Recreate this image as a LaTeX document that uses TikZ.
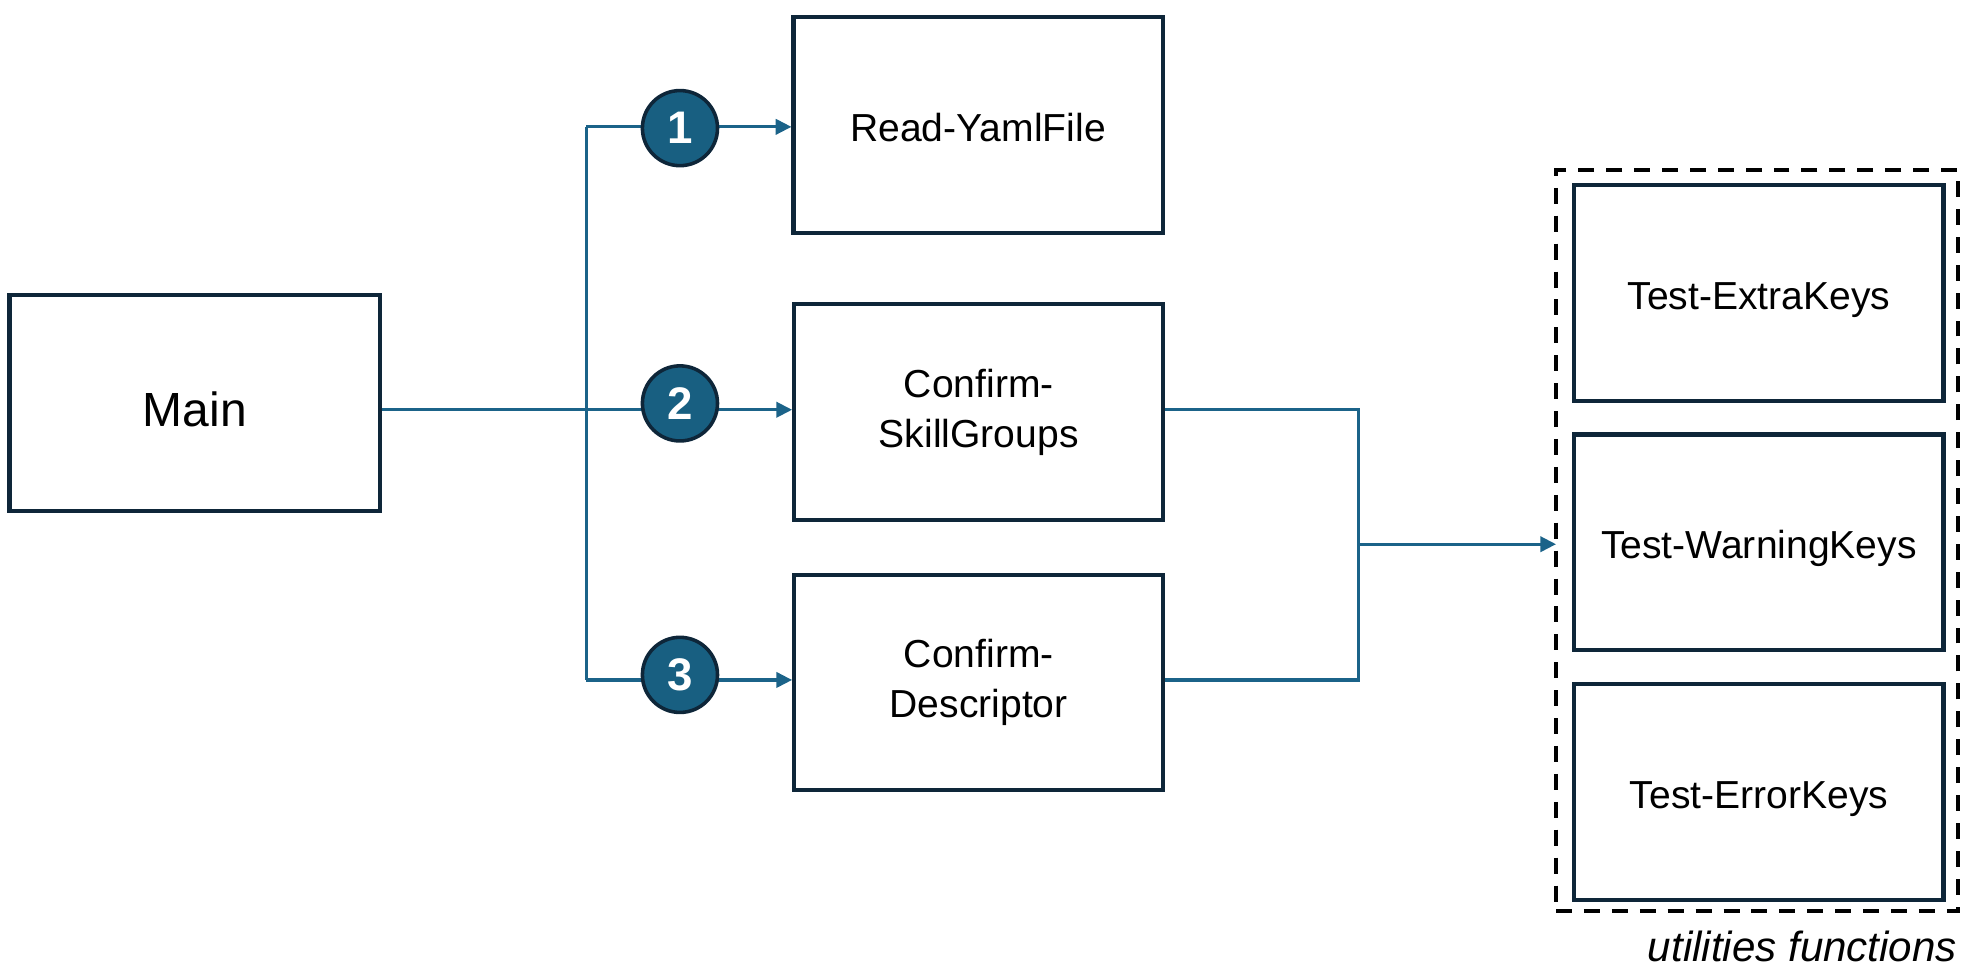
\documentclass[tikz,border=0pt]{standalone}
\usepackage{fontspec}
\setmainfont{Liberation Sans}
\usetikzlibrary{arrows.meta}
\definecolor{boxline}{HTML}{0E2639}
\definecolor{connblue}{HTML}{1B6389}
\definecolor{circfill}{HTML}{185F81}
\begin{document}
\begin{tikzpicture}[x=0.5pt,y=-0.5pt,
  fbox/.style={draw=boxline, line width=1.6pt, rectangle, minimum width=145.5pt, minimum height=85pt, inner sep=0pt, align=center, font=\fontsize{15.4}{19.5}\selectfont},
  onebox/.style={fbox, text height=13pt, text depth=0pt},
  conn/.style={draw=connblue, line width=1.25pt},
  arr/.style={conn, -{Triangle[length=6.2pt,width=6pt]}},
  badge/.style={circle, draw=boxline, fill=circfill, line width=1.4pt, minimum size=29.6pt, inner sep=0pt, text=white, font=\bfseries\fontsize{18}{18}\selectfont},
  dashbox/.style={draw=black, line width=1.6pt, dash pattern=on 6.3pt off 4.7pt, minimum width=158.4pt, minimum height=292.2pt, inner sep=0pt}
]
\useasboundingbox (0,0) rectangle (1560,768.6);

% boxes
\node[fbox, minimum width=146pt, font=\fontsize{18.9}{22}\selectfont, text height=19pt, text depth=0pt] (main) at (153.5,317.5) {Main};
\node[onebox] (read) at (771,98.5) {Read-YamlFile};
\node[fbox] (skill) at (771.5,325) {Confirm-\\SkillGroups};
\node[fbox] (desc) at (771.5,538) {Confirm-\\Descriptor};

\node[dashbox] (util) at (1385,426.25) {};
\node[onebox] (t1) at (1386.5,231) {Test-ExtraKeys};
\node[onebox] (t2) at (1386.5,427.5) {Test-WarningKeys};
\node[onebox] (t3) at (1386.5,624.5) {Test-ErrorKeys};
\node[anchor=base east, inner sep=0pt, font=\itshape\fontsize{16.6}{16.6}\selectfont] (ulabel) at (1543,758) {utilities functions};

% junction coordinates
\coordinate (j1) at (462,100);
\coordinate (j2) at (462,323);
\coordinate (j3) at (462,536);
\coordinate (k2) at (1071,323);
\coordinate (k3) at (1071,536);
\coordinate (km) at (1071,429);

% connectors
\draw[conn] (j1) -- (j3);
\draw[arr] (main.east |- j2) -- (skill.west |- j2);
\draw[arr] (j1) -- (read.west |- j1);
\draw[arr] (j3) -- (desc.west |- j3);
\draw[conn] (skill.east |- k2) -- (k2) -- (k3) -- (desc.east |- k3);
\draw[arr] (km) -- ([xshift=0.8pt]util.west |- km);

% step badges
\node[badge] (c1) at (536,101) {1};
\node[badge] (c2) at (536,318) {2};
\node[badge] (c3) at (536,532) {3};
\end{tikzpicture}
\end{document}
